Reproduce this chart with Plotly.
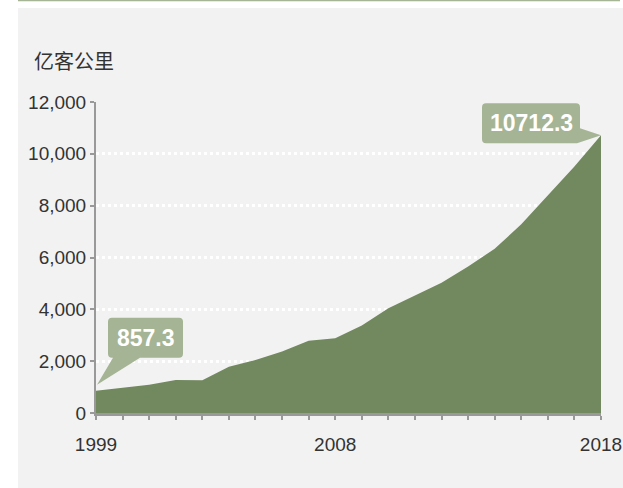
import plotly.graph_objects as go

# Civil aviation passenger turnover, 100 million passenger-km
years = list(range(1999, 2019))
values = [857.3, 970.5, 1091.4, 1268.7, 1263.2, 1782.3, 2044.9, 2370.7, 2791.7, 2882.8,
          3375.2, 4039.0, 4537.0, 5025.7, 5656.8, 6334.2, 7282.6, 8378.1, 9513.0, 10712.3]
x_labels = {1999: "1999", 2008: "2008", 2018: "2018"}
y_ticks = [0, 2000, 4000, 6000, 8000, 10000, 12000]
unit_label = "亿客公里"

W, H = 623, 488
ML, MR, MT, MB = 96, 22, 102, 75
PW, PH = W - ML - MR, H - MT - MB

AREA = "#72885f"
BUBBLE = "#a5b494"
PANEL = "#f2f2f2"
AXIS = "#999999"
TEXT = "#333333"
FONT = "Liberation Sans, Arial, sans-serif"


def px_x(p):
    return (p - ML) / PW


def px_y(p):
    return (H - MB - p) / PH


fig = go.Figure()
fig.add_trace(go.Scatter(
    x=years, y=values, mode="lines", fill="tozeroy",
    fillcolor=AREA, line=dict(width=0, color=AREA), hoverinfo="skip",
))

shapes = [
    # grey panel and thin top rule
    dict(type="rect", xref="paper", yref="paper", layer="below",
         x0=px_x(18), x1=px_x(W + 2), y0=px_y(8), y1=px_y(H + 2),
         fillcolor=PANEL, line=dict(width=0)),
    dict(type="line", xref="paper", yref="paper",
         x0=px_x(18), x1=px_x(620), y0=px_y(0.5), y1=px_y(0.5),
         line=dict(color="#a5b595", width=1.5)),
    # callout for the first value
    dict(type="path", xref="x", yref="y", xsizemode="pixel", ysizemode="pixel",
         xanchor=years[0], yanchor=values[0],
         path="M 1 6 L 44 33 L 83 33 Q 87 33 87 37 L 87 69 Q 87 73 83 73 "
              "L 16 73 Q 12 73 12 69 L 12 37 Q 12 33 16 33 L 17 33 Z",
         fillcolor=BUBBLE, line=dict(width=0)),
    # callout for the last value
    dict(type="path", xref="x", yref="y", xsizemode="pixel", ysizemode="pixel",
         xanchor=years[-1], yanchor=values[-1],
         path="M 0 0 L -21 7 L -21 28 Q -21 32 -25 32 L -115 32 Q -119 32 -119 28 "
              "L -119 -4 Q -119 -8 -115 -8 L -24 -8 Z",
         fillcolor=BUBBLE, line=dict(width=0)),
]

annotations = [
    dict(text=unit_label, xref="paper", yref="paper", x=px_x(32), y=px_y(61),
         xanchor="left", yanchor="middle", showarrow=False,
         font=dict(family="Noto Sans CJK SC", size=20, color=TEXT)),
    dict(text=f"{values[0]}", x=years[0], y=values[0], xref="x", yref="y",
         xshift=49.5, yshift=53, showarrow=False,
         font=dict(family=FONT, size=23, color="white", weight="bold")),
    dict(text=f"{values[-1]}", x=years[-1], y=values[-1], xref="x", yref="y",
         xshift=-70, yshift=12, showarrow=False,
         font=dict(family=FONT, size=23, color="white", weight="bold")),
]

fig.update_layout(
    width=W, height=H, autosize=False,
    margin=dict(l=ML, r=MR, t=MT, b=MB),
    paper_bgcolor="white", plot_bgcolor=PANEL,
    showlegend=False,
    shapes=shapes, annotations=annotations,
    font=dict(family=FONT, size=19, color=TEXT),
)
fig.update_xaxes(
    range=[years[0], years[-1]], automargin=False,
    tickvals=years, ticktext=[x_labels.get(y, "") for y in years],
    ticks="outside", ticklen=4, tickwidth=2, tickcolor=AXIS,
    ticklabelstandoff=8,
    showline=True, linecolor=AXIS, linewidth=3,
    showgrid=False, zeroline=False,
)
fig.update_yaxes(
    range=[0, 12000], tickvals=y_ticks, tickformat=",", automargin=False,
    ticks="outside", ticklen=4, tickwidth=2, tickcolor=AXIS,
    showline=True, linecolor=AXIS, linewidth=2,
    showgrid=True, gridcolor="white", gridwidth=2.5, griddash="dot",
    zeroline=False,
)

fig.write_html("out.html")
